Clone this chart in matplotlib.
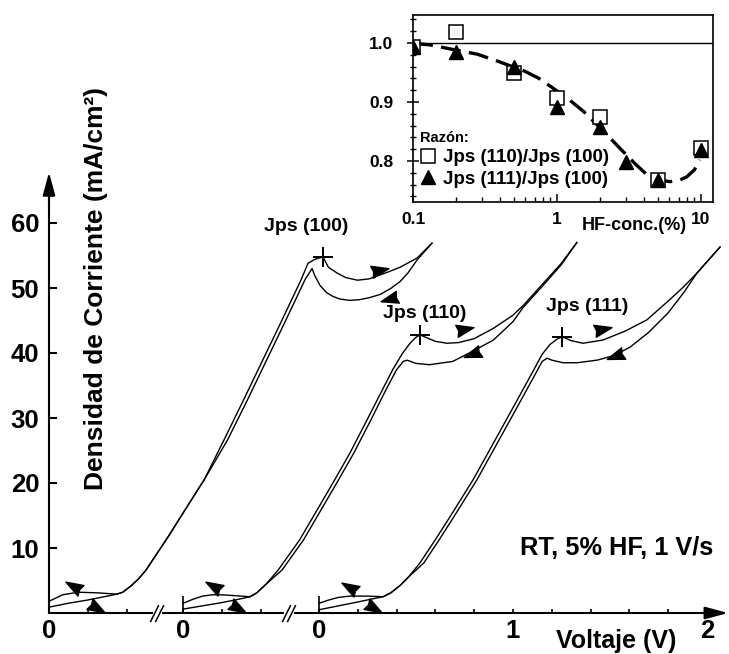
import numpy as np
import matplotlib
matplotlib.use('Agg')
import matplotlib.pyplot as plt
from matplotlib.markers import MarkerStyle
from matplotlib.path import Path
from matplotlib.transforms import Affine2D
from matplotlib.ticker import MultipleLocator, LogLocator, NullFormatter

plt.rcParams['font.family'] = ['Liberation Sans', 'DejaVu Sans']
plt.rcParams['font.weight'] = 'bold'

# ---- voltammograms: V is measured from each segment's own zero, J in mA/cm2 ----
# (100) on the first axis segment
v100_fwd = [0.00, 0.10, 0.20, 0.30, 0.35, 0.38, 0.42, 0.46, 0.50, 0.56, 0.62, 0.70, 0.80, 0.90,
            1.00, 1.10, 1.20, 1.30, 1.335, 1.37, 1.412, 1.44, 1.485, 1.53, 1.59, 1.65, 1.706,
            1.76, 1.81, 1.897, 1.974]
j100_fwd = [0.9, 1.5, 2.0, 2.6, 2.9, 3.2, 4.1, 5.2, 6.6, 9.3, 12.0, 15.8, 20.5, 26.5,
            32.6, 38.8, 45.0, 51.3, 53.8, 54.4, 54.8, 53.2, 52.3, 51.6, 51.2, 51.4, 52.0,
            52.6, 53.2, 54.6, 56.9]
v100_bwd = [1.974, 1.897, 1.85, 1.81, 1.76, 1.706, 1.65, 1.60, 1.55, 1.50, 1.464, 1.43, 1.397,
            1.37, 1.356, 1.32, 1.22, 1.12, 1.02, 0.92, 0.80, 0.70, 0.62, 0.56, 0.50, 0.46,
            0.42, 0.38, 0.35, 0.25, 0.15, 0.07, 0.00]
j100_bwd = [56.9, 54.3, 52.3, 51.0, 49.9, 49.0, 48.5, 48.2, 48.1, 48.3, 48.7, 49.3, 50.4,
            51.9, 53.0, 51.3, 45.0, 38.8, 32.6, 26.6, 20.5, 15.8, 12.0, 9.3, 6.6, 5.2,
            4.1, 3.2, 2.9, 3.1, 3.2, 2.8, 1.8]

# (110) on the second axis segment
v110_fwd = [0.00, 0.10, 0.20, 0.30, 0.345, 0.38, 0.43, 0.49, 0.60, 0.69, 0.78, 0.86, 0.95, 1.02,
            1.08, 1.13, 1.17, 1.20, 1.221, 1.26, 1.30, 1.36, 1.42, 1.50, 1.60, 1.70, 1.753,
            1.85, 1.95, 2.03]
j110_fwd = [0.6, 1.1, 1.6, 2.2, 2.5, 3.1, 4.5, 6.6, 11.2, 15.8, 20.4, 24.6, 29.8, 33.9,
            37.4, 39.9, 41.5, 42.4, 42.8, 42.3, 41.8, 41.5, 41.6, 42.2, 43.8, 45.8, 47.3,
            50.5, 53.8, 57.0]
v110_bwd = [2.03, 1.95, 1.85, 1.753, 1.70, 1.60, 1.495, 1.39, 1.27, 1.20, 1.155, 1.135, 1.10,
            1.04, 0.97, 0.88, 0.80, 0.71, 0.62, 0.51, 0.43, 0.38, 0.345, 0.30, 0.20, 0.15,
            0.10, 0.05, 0.00]
j110_bwd = [57.0, 53.6, 50.2, 47.0, 44.8, 42.0, 40.3, 38.7, 38.2, 38.4, 38.9, 38.7, 37.4,
            34.0, 29.8, 24.6, 20.4, 15.8, 11.2, 6.6, 4.5, 3.1, 2.5, 2.6, 2.8, 2.8,
            2.6, 2.1, 1.5]

# (111) on the third axis segment
v111_fwd = [0.00, 0.10, 0.20, 0.28, 0.33, 0.37, 0.42, 0.46, 0.52, 0.60, 0.675, 0.794, 0.90,
            1.00, 1.103, 1.15, 1.19, 1.225, 1.253, 1.30, 1.36, 1.464, 1.58, 1.69, 1.80, 1.88,
            1.948, 2.067]
j111_fwd = [0.5, 1.1, 1.7, 2.2, 2.5, 3.1, 4.3, 5.5, 7.7, 11.3, 14.8, 20.5, 26.2,
            31.6, 37.2, 39.8, 41.3, 42.1, 42.5, 41.9, 41.5, 42.0, 43.4, 45.1, 48.0, 50.2,
            52.3, 56.3]
v111_bwd = [2.067, 1.948, 1.88, 1.80, 1.70, 1.603, 1.52, 1.433, 1.33, 1.258, 1.20, 1.175, 1.15,
            1.123, 1.02, 0.92, 0.814, 0.695, 0.62, 0.54, 0.46, 0.42, 0.37, 0.33, 0.25, 0.16,
            0.10, 0.05, 0.00]
j111_bwd = [56.3, 52.3, 49.3, 46.2, 43.2, 40.9, 39.6, 38.9, 38.5, 38.5, 38.9, 39.2, 38.7,
            37.2, 31.6, 26.2, 20.5, 14.8, 11.3, 7.7, 5.5, 4.3, 3.1, 2.5, 2.6, 2.6,
            2.4, 2.0, 1.5]

# Jps points (V in segment units, J)
jps_labels = ['Jps (100)', 'Jps (110)', 'Jps (111)']
jps_v = [1.412, 1.221, 1.253]
jps_j = [54.8, 42.8, 42.5]

# scan-direction arrows: segment, V, J, direction (deg)
arrow_seg = [0, 0, 0, 0, 1, 1, 1, 1, 2, 2, 2, 2]
arrow_v = [0.124, 0.247, 1.706, 1.753, 0.155, 0.284, 1.454, 1.490, 0.155, 0.284, 1.464, 1.526]
arrow_j = [4.2, 0.8, 52.8, 48.3, 4.2, 0.8, 43.7, 39.9, 4.0, 0.8, 43.7, 39.6]
arrow_ang = [150, -30, 12, 195, 150, -30, 12, 200, 150, -30, 12, 200]

# inset: ratio of Jps vs HF concentration
hf_110 = [0.1, 0.2, 0.5, 1, 2, 5, 10]
ratio_110 = [0.994, 1.019, 0.949, 0.906, 0.875, 0.768, 0.822]
hf_111 = [0.1, 0.2, 0.5, 1, 2, 3, 5, 10]
ratio_111 = [0.994, 0.985, 0.960, 0.892, 0.858, 0.799, 0.768, 0.819]
hf_fit = [0.1, 0.13, 0.19, 0.28, 0.40, 0.6, 0.75, 0.92, 1.2, 1.53, 2.0, 2.8, 3.5, 4.2, 5.0,
          6.1, 7.0, 7.95, 9.0, 9.8]
ratio_fit = [0.9995, 0.997, 0.989, 0.981, 0.968, 0.952, 0.940, 0.925, 0.905, 0.884, 0.856,
             0.819, 0.795, 0.777, 0.768, 0.765, 0.767, 0.773, 0.785, 0.802]

# ---- layout (pixels of the 729x654 picture) ----
W, H = 729, 654
X0, PXV = 49, 194.0     # x pixel of V=0 and pixels per volt
Y0, PXJ = 613, 6.5      # y pixel of J=0 and pixels per mA/cm2
seg_off = [0.0, 0.691, 1.392]   # where each broken-axis segment starts
breaks = [0.557, 1.237]


def px(x, y):
    return x / W, 1 - y / H


fig = plt.figure(figsize=(W / 100, H / 100), dpi=100)
ax = fig.add_axes([0, 0, 1, 1])
ax.set_xlim(-X0 / PXV, (W - X0) / PXV)
ax.set_ylim(-(H - Y0) / PXJ, Y0 / PXJ)

curves = [(0, v100_fwd, j100_fwd, v100_bwd, j100_bwd),
          (1, v110_fwd, j110_fwd, v110_bwd, j110_bwd),
          (2, v111_fwd, j111_fwd, v111_bwd, j111_bwd)]
for seg, vf, jf, vb, jb in curves:
    ax.plot(np.array(vf) + seg_off[seg], jf, color='k', lw=1.0)
    ax.plot(np.array(vb) + seg_off[seg], jb, color='k', lw=1.0)

ax.plot(np.array(jps_v) + np.array(seg_off), jps_j, '+', color='k', ms=14, mew=1.4)

dart = Path([(1, 0), (-1, 0.7), (-0.8, 0), (-1, -0.7), (1, 0)],
            [Path.MOVETO, Path.LINETO, Path.LINETO, Path.LINETO, Path.CLOSEPOLY])
for seg, v, j, ang in zip(arrow_seg, arrow_v, arrow_j, arrow_ang):
    m = MarkerStyle(dart, transform=Affine2D().rotate_deg(ang))
    ax.plot(seg_off[seg] + v, j, marker=m, ms=12.5, color='k', ls='none')

# axes
for s in ['top', 'right']:
    ax.spines[s].set_visible(False)
ax.spines['left'].set_position(('data', 0))
ax.spines['bottom'].set_position(('data', 0))
ax.spines['left'].set_bounds(0, 64)
ax.spines['bottom'].set_bounds(0, 3.40)
ax.spines['left'].set_linewidth(1.5)
ax.spines['bottom'].set_linewidth(1.5)

ax.set_yticks([10, 20, 30, 40, 50, 60])
ax.tick_params(axis='y', direction='in', length=6, width=1.5, pad=7, labelsize=18.5)

xt, xl = [], []
for k, off in enumerate(seg_off):
    n = 10 if k == 2 else 2
    for i in range(n + 1):
        xt.append(off + 0.2 * i)
        xl.append(str(i // 5) if i % 5 == 0 else '')
ax.set_xticks(xt)
ax.set_xticklabels(xl)
ax.tick_params(axis='x', direction='in', length=3, width=1.2, pad=4, labelsize=18.5)

ax.vlines(seg_off[1:], 0, 2.6, color='k', lw=1.2)
for xb in breaks:
    ax.plot([xb - 0.013, xb + 0.013], [0, 0], color='white', lw=3, zorder=3)
    for dx in (-0.013, 0.013):
        ax.plot([xb + dx - 0.02, xb + dx + 0.02], [-1.3, 1.1], color='k', lw=1.1, zorder=4)

arrow_kw = dict(arrowstyle='-|>,head_length=1.4,head_width=0.38', mutation_scale=10,
                color='k', lw=1.5, shrinkA=0, shrinkB=0)
ax.annotate('', xy=(0, 67.8), xytext=(0, 62), arrowprops=arrow_kw)
ax.annotate('', xy=(3.50, 0), xytext=(3.36, 0), arrowprops=arrow_kw)

fig.text(*px(96, 288), 'Densidad de Corriente (mA/cm²)', rotation=90,
         ha='center', va='center', fontsize=19)
fig.text(*px(616, 641), 'Voltaje (V)', ha='center', va='center', fontsize=18)
fig.text(*px(617, 548), 'RT, 5% HF, 1 V/s', ha='center', va='center', fontsize=18.3)
for lbl, (x, y) in zip(jps_labels, [(306, 227), (425, 314), (587, 306)]):
    fig.text(*px(x, y), lbl, ha='center', va='center', fontsize=14)

# ---- inset ----
axi = fig.add_axes([413 / W, 1 - 202 / H, 300 / W, 187 / H])
axi.set_xscale('log')
axi.set_xlim(0.1, 12.12)
axi.set_ylim(0.7305, 1.0475)
axi.axhline(1.0, color='k', lw=1.0)
axi.plot(hf_fit, ratio_fit, color='k', lw=2.4, dashes=(6, 2.5), zorder=2)
axi.plot(hf_110, ratio_110, 's', ms=9.5, mfc='white', mec='k', mew=1.1, ls='none',
         label='Jps (110)/Jps (100)', zorder=3)
axi.plot(hf_111, ratio_111, '^', ms=9.5, color='k', ls='none',
         label='Jps (111)/Jps (100)', zorder=4)
for s in axi.spines.values():
    s.set_linewidth(1.2)

axi.set_xticks([0.1, 1, 10])
axi.set_xticklabels(['0.1', '1', '10'])
axi.xaxis.set_minor_locator(LogLocator(subs=np.arange(2, 10)))
axi.xaxis.set_minor_formatter(NullFormatter())
axi.tick_params(axis='x', which='major', direction='in', length=6, width=1.1, pad=7,
                labelsize=12.5, top=False)
axi.tick_params(axis='x', which='minor', direction='in', length=3.5, width=1.0, top=False)
axi.set_yticks([0.8, 0.9, 1.0])
axi.set_yticklabels(['0.8', '0.9', '1.0'])
axi.yaxis.set_minor_locator(MultipleLocator(0.02))
axi.tick_params(axis='y', which='major', direction='inout', length=8.6, width=1.1, pad=10,
                labelsize=12.5, right=False)
axi.tick_params(axis='y', which='minor', direction='inout', length=4.3, width=1.0, right=False)

axi.legend(loc='upper left', bbox_to_anchor=px(420, 131), bbox_transform=fig.transFigure,
           title='Razón:', title_fontproperties={'weight': 'bold', 'size': 10.5},
           alignment='left', prop={'weight': 'bold', 'size': 13.5}, frameon=False,
           borderpad=0, borderaxespad=0, handlelength=0.9, handletextpad=0.3,
           labelspacing=0.22, numpoints=1)

fig.text(*px(634, 226), 'HF-conc.(%)', ha='center', va='center', fontsize=13)

fig.savefig('out.png', dpi=100)
